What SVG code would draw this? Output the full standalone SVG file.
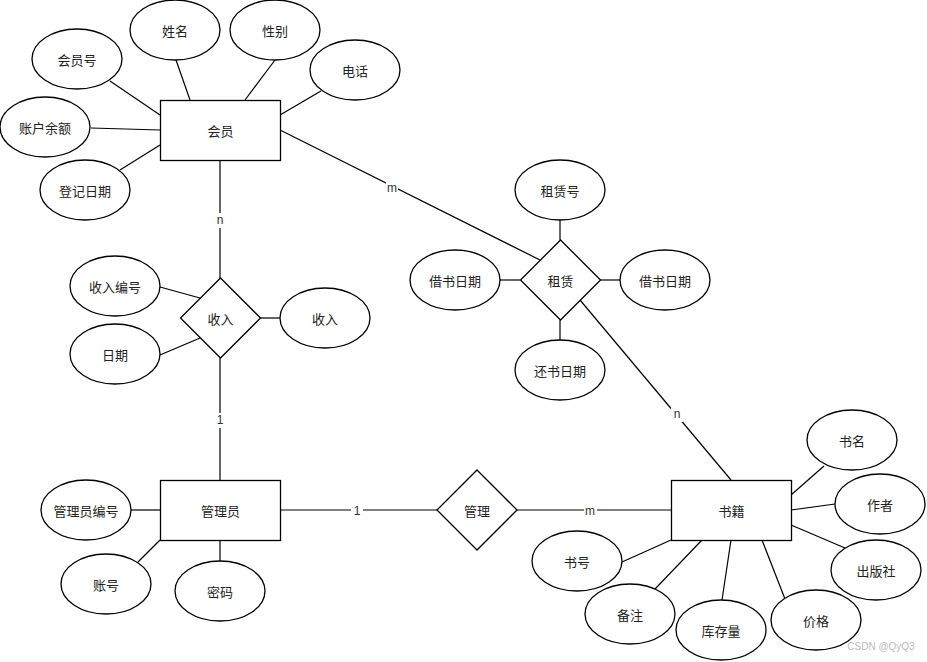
<svg xmlns="http://www.w3.org/2000/svg" width="927" height="662" viewBox="0 0 927 662">
<style>
.s{fill:#fff;stroke:#000;stroke-width:1.3}
.t{font-family:"Noto Sans CJK SC","Liberation Sans",sans-serif;font-size:13px;fill:#222;text-anchor:middle;dominant-baseline:central}
.c line{stroke:#000;stroke-width:1.2}
.lb{font-family:"Liberation Sans",Arial,sans-serif;font-size:12px;fill:#333;text-anchor:middle;dominant-baseline:central}
.bg{fill:#fff}
</style>
<rect width="927" height="662" fill="#fff"/>
<g class="c" id="connectors">
<line x1="110" y1="81" x2="160" y2="115"/>
<line x1="176" y1="60" x2="190" y2="100"/>
<line x1="275" y1="60" x2="245" y2="100"/>
<line x1="321" y1="91" x2="280" y2="115"/>
<line x1="91" y1="128" x2="160" y2="130"/>
<line x1="120" y1="170" x2="160" y2="145"/>
<line x1="280" y1="130" x2="540" y2="260"/>
<line x1="560" y1="220" x2="560" y2="240"/>
<line x1="500" y1="280" x2="520" y2="280"/>
<line x1="600" y1="280" x2="620" y2="280"/>
<line x1="560" y1="320" x2="560" y2="340"/>
<line x1="580" y1="300" x2="731" y2="480"/>
<line x1="220" y1="160" x2="220" y2="278"/>
<line x1="220" y1="358" x2="220" y2="480"/>
<line x1="160" y1="287" x2="200" y2="298"/>
<line x1="160" y1="355" x2="200" y2="338"/>
<line x1="260" y1="318" x2="280" y2="318"/>
<line x1="131" y1="510" x2="160" y2="510"/>
<line x1="160" y1="540" x2="138" y2="562"/>
<line x1="220" y1="540" x2="220" y2="561"/>
<line x1="280" y1="510" x2="437" y2="510"/>
<line x1="517" y1="510" x2="671" y2="510"/>
<line x1="824" y1="466" x2="791" y2="495"/>
<line x1="791" y1="510" x2="835" y2="504"/>
<line x1="791" y1="525" x2="845" y2="548"/>
<line x1="762" y1="540" x2="785" y2="599"/>
<line x1="731" y1="540" x2="722" y2="600"/>
<line x1="702" y1="540" x2="655" y2="589"/>
<line x1="671" y1="540" x2="622" y2="562"/>
<rect class="bg" x="386" y="180" width="12" height="15"/>
<text class="lb" x="392" y="188">m</text>
<rect class="bg" x="214" y="213" width="12" height="15"/>
<text class="lb" x="220" y="220">n</text>
<rect class="bg" x="214" y="413" width="12" height="15"/>
<text class="lb" x="220" y="420">1</text>
<rect class="bg" x="671" y="407" width="12" height="15"/>
<text class="lb" x="677" y="414">n</text>
<rect class="bg" x="351" y="503" width="12" height="15"/>
<text class="lb" x="357" y="511">1</text>
<rect class="bg" x="584" y="503" width="13" height="15"/>
<text class="lb" x="590" y="511">m</text>
</g>
<g id="member"><rect class="s" x="160.5" y="100.5" width="120" height="60"/><text class="t" x="220.5" y="130">会员</text></g>
<g id="member-no"><ellipse class="s" cx="77" cy="59" rx="45" ry="30"/><text class="t" x="77" y="59">会员号</text></g>
<g id="member-name"><ellipse class="s" cx="175" cy="30" rx="45" ry="30"/><text class="t" x="175" y="30">姓名</text></g>
<g id="member-sex"><ellipse class="s" cx="275" cy="30" rx="45" ry="30"/><text class="t" x="275" y="30">性别</text></g>
<g id="member-phone"><ellipse class="s" cx="355" cy="70" rx="45" ry="30"/><text class="t" x="355" y="70">电话</text></g>
<g id="member-balance"><ellipse class="s" cx="45" cy="127" rx="45" ry="30"/><text class="t" x="45" y="127">账户余额</text></g>
<g id="member-date"><ellipse class="s" cx="85" cy="190" rx="45" ry="30"/><text class="t" x="85" y="190">登记日期</text></g>
<g id="rent"><polygon class="s" points="560.5,240 600.5,280 560.5,320 520.5,280"/><text class="t" x="560.5" y="280">租赁</text></g>
<g id="rent-no"><ellipse class="s" cx="560" cy="190" rx="45" ry="30"/><text class="t" x="560" y="190">租赁号</text></g>
<g id="rent-date-l"><ellipse class="s" cx="455" cy="280" rx="45" ry="30"/><text class="t" x="455" y="280">借书日期</text></g>
<g id="rent-date-r"><ellipse class="s" cx="665" cy="280" rx="45" ry="30"/><text class="t" x="665" y="280">借书日期</text></g>
<g id="return-date"><ellipse class="s" cx="560" cy="370" rx="45" ry="30"/><text class="t" x="560" y="370">还书日期</text></g>
<g id="income"><polygon class="s" points="220.5,278 260.5,318 220.5,358 180.5,318"/><text class="t" x="220.5" y="318">收入</text></g>
<g id="income-no"><ellipse class="s" cx="115" cy="286" rx="45" ry="30"/><text class="t" x="115" y="286">收入编号</text></g>
<g id="income-date"><ellipse class="s" cx="115" cy="354" rx="45" ry="30"/><text class="t" x="115" y="354">日期</text></g>
<g id="income-amount"><ellipse class="s" cx="325" cy="318" rx="45" ry="30"/><text class="t" x="325" y="318">收入</text></g>
<g id="admin"><rect class="s" x="160.5" y="480.5" width="120" height="60"/><text class="t" x="220.5" y="510">管理员</text></g>
<g id="admin-no"><ellipse class="s" cx="86" cy="510" rx="45" ry="30"/><text class="t" x="86" y="510">管理员编号</text></g>
<g id="admin-account"><ellipse class="s" cx="106" cy="584" rx="45" ry="30"/><text class="t" x="106" y="584">账号</text></g>
<g id="admin-pwd"><ellipse class="s" cx="220" cy="591" rx="45" ry="30"/><text class="t" x="220" y="591">密码</text></g>
<g id="manage"><polygon class="s" points="477,470 517,510 477,550 437,510"/><text class="t" x="477" y="510">管理</text></g>
<g id="book"><rect class="s" x="671.5" y="480.5" width="120" height="60"/><text class="t" x="731.5" y="510">书籍</text></g>
<g id="book-name"><ellipse class="s" cx="852" cy="440" rx="45" ry="30"/><text class="t" x="852" y="440">书名</text></g>
<g id="book-author"><ellipse class="s" cx="880" cy="504" rx="45" ry="30"/><text class="t" x="880" y="504">作者</text></g>
<g id="book-publisher"><ellipse class="s" cx="876" cy="570" rx="45" ry="30"/><text class="t" x="876" y="570">出版社</text></g>
<g id="book-price"><ellipse class="s" cx="816" cy="620" rx="45" ry="30"/><text class="t" x="816" y="620">价格</text></g>
<g id="book-stock"><ellipse class="s" cx="721" cy="630" rx="45" ry="30"/><text class="t" x="721" y="630">库存量</text></g>
<g id="book-note"><ellipse class="s" cx="630" cy="614" rx="45" ry="30"/><text class="t" x="630" y="614">备注</text></g>
<g id="book-no"><ellipse class="s" cx="577" cy="561" rx="45" ry="30"/><text class="t" x="577" y="561">书号</text></g>
<text x="881" y="646" font-family="Liberation Sans,Arial,sans-serif" font-size="10" fill="#bbb" text-anchor="middle" dominant-baseline="central">CSDN @QyQ3</text>
</svg>
